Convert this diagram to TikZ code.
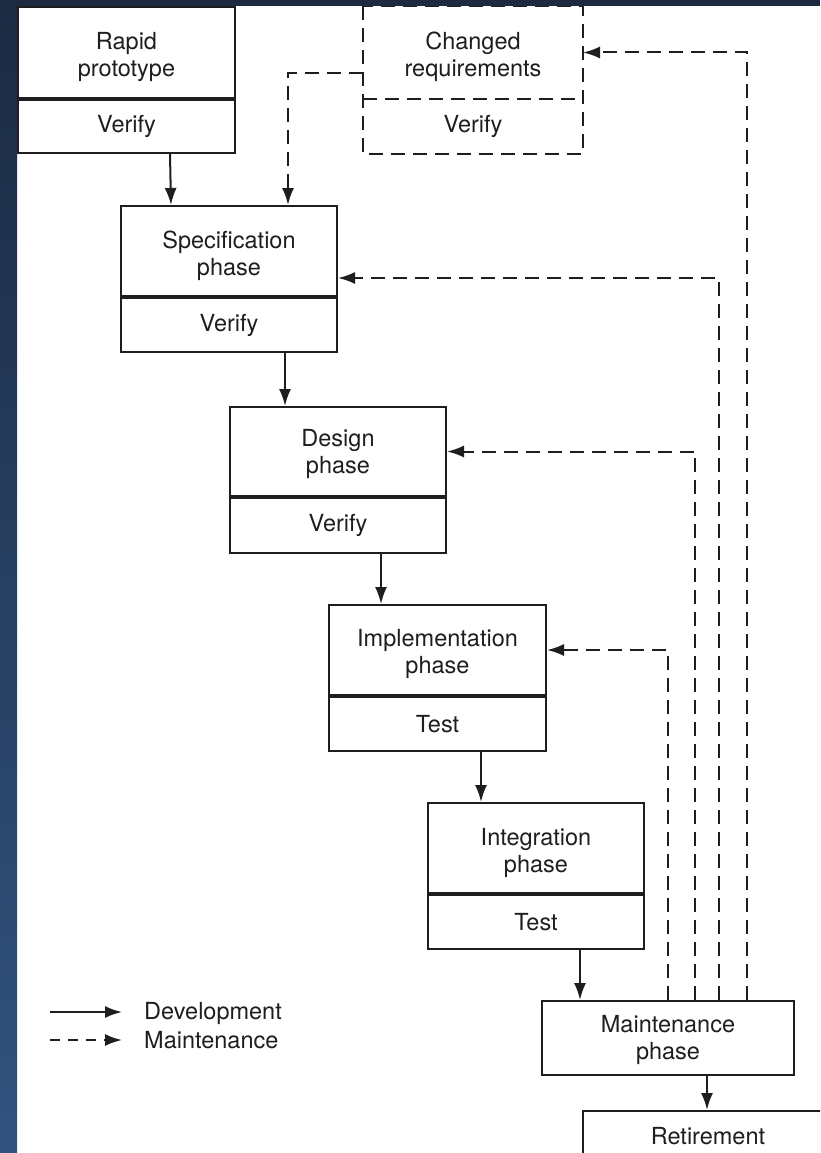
\documentclass[tikz,border=0pt]{standalone}
\usepackage{fontspec}
\setmainfont{TeX Gyre Heros}
\usetikzlibrary{arrows.meta}
\definecolor{ink}{HTML}{1E1E1E}
\definecolor{frameTop}{HTML}{1C2A42}
\definecolor{frameBot}{HTML}{31537E}
% taller first line, so that two-line names sit a little lower in their cell
\newcommand{\liftline}{\rule{0pt}{27pt}}
\begin{document}
\begin{tikzpicture}[x=1pt,y=-1pt,
  font=\fontsize{23.5}{27}\selectfont,
  box/.style={draw=ink, line width=2pt, inner sep=0pt, anchor=north west,
              align=center, text=ink, minimum width=217pt},
  cell/.style={box, draw=none},
  dev/.style={draw=ink, line width=2pt, -{Latex[length=17pt,width=12pt]}},
  mnt/.style={dev, dash pattern=on 14pt off 8pt},
  legmnt/.style={dev, dash pattern=on 10pt off 8pt}]
\useasboundingbox (0,0) rectangle (820,1153);
\fill[white] (0,0) rectangle (820,1153);

\begin{scope}
\clip (0,0) rectangle (820,1153);
% phase boxes: upper part holds the name, lower part the check
\node[box, minimum height=91pt] (rp) at (17,6) {\liftline Rapid\\prototype};
\node[box, minimum height=53pt] (rpv) at (rp.south west) {Verify};

\node[cell, minimum width=218pt, minimum height=91pt] (cr) at (363,6) {\liftline Changed\\requirements};
\node[cell, minimum width=218pt, minimum height=53pt] (crv) at (cr.south west) {Verify};
\draw[draw=ink, line width=2pt, dash pattern=on 14pt off 8pt]
  (cr.north west) rectangle (crv.south east)
  (cr.south west) -- (cr.south east);

\node[box, minimum width=216pt, minimum height=90pt] (spec) at (120,205) {\liftline Specification\\phase};
\node[box, minimum width=216pt, minimum height=54pt] (specv) at (spec.south west) {Verify};

\node[box, minimum width=216pt, minimum height=89pt] (des) at (229,406) {\rule{0pt}{22pt}Design\\phase};
\node[box, minimum width=216pt, minimum height=55pt] (desv) at (des.south west) {Verify};

\node[box, minimum height=90pt] (imp) at (328,604) {\rule{0pt}{25pt}Implementation\\phase};
\node[box, minimum height=54pt] (impv) at (imp.south west) {Test};

\node[box, minimum width=216pt, minimum height=90pt] (int) at (427,802) {\liftline Integration\\phase};
\node[box, minimum width=216pt, minimum height=54pt] (intv) at (int.south west) {Test};

\node[box, minimum width=252pt, minimum height=74pt] (mnt) at (541,1000) {\rule{0pt}{21pt}Maintenance\\phase};
\node[box, minimum width=250pt, minimum height=50pt] (ret) at (582,1110) {Retirement};

% development flow
\draw[dev] ([xshift=153pt]rpv.south west) -- ([xshift=51pt]spec.north west);
\draw[dev] ([xshift=165pt]specv.south west) -- ([xshift=56pt]des.north west);
\draw[dev] ([xshift=152pt]desv.south west) -- ([xshift=53pt]imp.north west);
\draw[dev] ([xshift=153pt]impv.south west) -- ([xshift=54pt]int.north west);
\draw[dev] ([xshift=153pt]intv.south west) -- ([xshift=39pt]mnt.north west);
\draw[dev] ([xshift=166pt]mnt.south west) -- ([xshift=125pt]ret.north west);

% maintenance feedback
\draw[mnt] (cr.west |- 0,73) -| ([xshift=168pt]spec.north west);
\draw[mnt] ([xshift=127pt]mnt.north west) |- (imp.east);
\draw[mnt] ([xshift=154pt]mnt.north west) |- (des.east);
\draw[mnt] ([xshift=178pt]mnt.north west) |- (spec.east |- 0,278);
\draw[mnt] ([xshift=206pt]mnt.north west) |- (cr.east);

% legend
\coordinate (la) at (50,1012);
\coordinate (lb) at (50,1040);
\node[anchor=west, inner sep=0pt, text=ink] (ldev) at (144,1013) {Development};
\node[anchor=west, inner sep=0pt, text=ink] (lmnt) at (144,1040) {Maintenance};
\draw[dev] (la) -- ([xshift=-22pt]ldev.west |- la);
\draw[legmnt] (lb) -- ([xshift=-22pt]lmnt.west |- lb);
\end{scope}

% dark frame along the left and top edges
\shade[top color=frameTop, bottom color=frameBot] (0,0) rectangle (17,1153);
\fill[frameTop] (0,0) rectangle (820,6);
\end{tikzpicture}
\end{document}
